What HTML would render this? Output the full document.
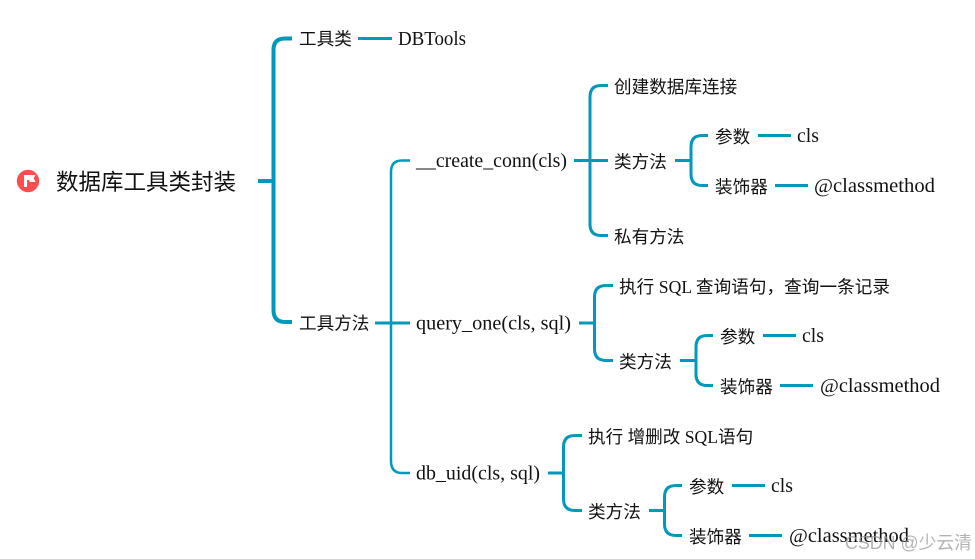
<!DOCTYPE html>
<html><head><meta charset="utf-8"><style>
html,body{margin:0;padding:0;background:#fff;width:975px;height:559px;overflow:hidden}
svg{display:block}
text{font-family:"Liberation Serif","Noto Sans CJK SC",serif;font-size:17.6px;fill:#111}
.s{font-size:19.5px}
.l{fill:none;stroke:#0099bb;stroke-width:3;stroke-linecap:butt}
</style></head><body>
<svg width="975" height="559" viewBox="0 0 975 559" xmlns="http://www.w3.org/2000/svg">
<circle cx="28" cy="181" r="11.200" fill="#ff4d4f"/>
<path d="M24 175h11.500l-1.800 3.200 1.800 3.800h-6v-2h-2.500v7h-3z" fill="#fff"/>
<text x="56" y="190" style="font-size:22.5px">数据库工具类封装</text>

<path d="M258 181H273" class="l" style="stroke-width:4"/>
<path d="M292 38.500H285Q273.500 38.500 273.500 50V310Q273.500 322 285 322H292" class="l" style="stroke-width:4"/>
<text x="299" y="45">工具类</text>
<path d="M358 38.500H392" class="l"/>
<text x="398" y="45" class="s" textLength="68" lengthAdjust="spacingAndGlyphs">DBTools</text>
<text x="299" y="329.500">工具方法</text>
<path d="M375 323H410" class="l"/>
<path d="M410 160.500H402Q391 160.500 391 172V461Q391 473 402 473H410" class="l" style="stroke-width:2.500"/>

<text x="416" y="167" class="s" textLength="151" lengthAdjust="spacingAndGlyphs">__create_conn(cls)</text>
<text x="416" y="329.500" class="s" textLength="155" lengthAdjust="spacingAndGlyphs">query_one(cls, sql)</text>
<text x="416" y="479.500" class="s" textLength="124" lengthAdjust="spacingAndGlyphs">db_uid(cls, sql)</text>

<path d="M574 160.500H608M608 85.500H601Q590 85.500 590 97V224Q590 235.500 601 235.500H608" class="l"/>
<text x="614" y="93">创建数据库连接</text>
<text x="614" y="168">类方法</text>
<text x="614" y="243">私有方法</text>
<path d="M675 160.500H691M708 135.500H702Q691 135.500 691 147V174Q691 185.500 702 185.500H708" class="l"/>
<text x="715" y="143">参数</text>
<text x="715" y="193">装饰器</text>
<path d="M758 135.500H791M775 185.500H808" class="l"/>
<text x="797" y="142" class="s" textLength="22" lengthAdjust="spacingAndGlyphs">cls</text>
<text x="814" y="192" class="s" textLength="121" lengthAdjust="spacingAndGlyphs">@classmethod</text>

<path d="M579 323H594M613 285.500H606Q594.500 285.500 594.500 297V349Q594.500 360.500 606 360.500H613" class="l"/>
<text x="619" y="293" textLength="271">执行 SQL 查询语句，查询一条记录</text>
<text x="619" y="368">类方法</text>
<path d="M680 360.500H696M713 335.500H707Q696 335.500 696 347V374Q696 385.500 707 385.500H713" class="l"/>
<text x="720" y="343">参数</text>
<text x="720" y="393">装饰器</text>
<path d="M763 335.500H796M780 385.500H813" class="l"/>
<text x="802" y="342" class="s" textLength="22" lengthAdjust="spacingAndGlyphs">cls</text>
<text x="820" y="392" class="s" textLength="120" lengthAdjust="spacingAndGlyphs">@classmethod</text>

<path d="M548 473H563M582 435.500H575Q563.500 435.500 563.500 447V499Q563.500 510.500 575 510.500H582" class="l"/>
<text x="588" y="443">执行 增删改 SQL语句</text>
<text x="588" y="518">类方法</text>
<path d="M649 510.500H664M682 485.500H676Q664.500 485.500 664.500 497V524Q664.500 535.500 676 535.500H682" class="l"/>
<text x="689" y="493">参数</text>
<text x="689" y="543">装饰器</text>
<path d="M732 485.500H765M749 535.500H782" class="l"/>
<text x="771" y="492" class="s" textLength="22" lengthAdjust="spacingAndGlyphs">cls</text>
<text x="789" y="542" class="s" textLength="120" lengthAdjust="spacingAndGlyphs">@classmethod</text>

<text x="845" y="549" textLength="127" lengthAdjust="spacingAndGlyphs" style="font-family:'Liberation Sans','Noto Sans CJK SC',sans-serif;font-size:18px;fill:#999;fill-opacity:.75">CSDN @少云清</text>
</svg>
</body></html>
